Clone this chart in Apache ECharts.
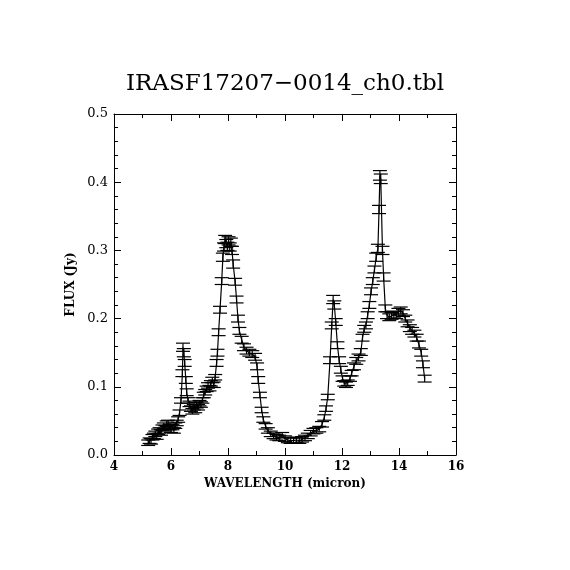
<!DOCTYPE html>
<html>
<head>
<meta charset="utf-8">
<script src="https://cdn.jsdelivr.net/npm/echarts@6/dist/echarts.min.js"></script>
<style>html,body{margin:0;padding:0;background:#fff;}#c{width:570px;height:570px;}</style>
</head>
<body>
<div id="c"></div>
<script>
const chartTitle = "IRASF17207\u22120014_ch0.tbl";
const xName = "WAVELENGTH (micron)";
const yName = "FLUX (Jy)";
const wavelength = [
  5.20,5.25,5.30,5.35,5.40,5.45,5.50,5.55,5.60,5.65,
  5.70,5.75,5.80,5.85,5.90,5.95,6.00,6.05,6.10,6.15,
  6.20,6.25,6.30,6.35,6.40,6.42,6.45,6.48,6.52,6.55,
  6.60,6.65,6.70,6.75,6.80,6.85,6.90,6.95,7.00,7.05,
  7.10,7.15,7.20,7.25,7.30,7.35,7.40,7.45,7.50,7.55,
  7.60,7.63,7.67,7.72,7.78,7.82,7.86,7.90,7.94,7.98,
  8.02,8.06,8.10,8.14,8.18,8.25,8.30,8.35,8.40,8.48,
  8.56,8.65,8.75,8.85,8.95,9.02,9.06,9.12,9.18,9.24,
  9.32,9.40,9.50,9.60,9.70,9.80,9.90,10.00,10.10,10.20,
  10.30,10.40,10.50,10.60,10.70,10.80,10.90,11.00,11.10,11.20,
  11.30,11.38,11.44,11.50,11.58,11.64,11.69,11.73,11.78,11.84,
  11.90,11.96,12.02,12.08,12.14,12.20,12.28,12.34,12.42,12.50,
  12.58,12.66,12.72,12.78,12.84,12.90,12.96,13.02,13.08,13.14,
  13.20,13.26,13.30,13.33,13.36,13.42,13.46,13.52,13.58,13.66,
  13.74,13.82,13.90,13.98,14.06,14.14,14.22,14.30,14.38,14.46,
  14.54,14.62,14.70,14.78,14.84,14.90
];
const flux = [
  0.018,0.021,0.020,0.026,0.028,0.031,0.027,0.034,0.036,0.033,
  0.040,0.043,0.039,0.046,0.047,0.041,0.037,0.041,0.036,0.043,
  0.047,0.052,0.062,0.080,0.120,0.158,0.150,0.135,0.110,0.092,
  0.080,0.075,0.068,0.064,0.070,0.066,0.073,0.070,0.076,0.074,
  0.080,0.088,0.092,0.097,0.102,0.098,0.105,0.110,0.103,0.114,
  0.135,0.150,0.180,0.213,0.255,0.290,0.305,0.316,0.310,0.306,
  0.314,0.305,0.312,0.300,0.280,0.254,0.228,0.200,0.182,0.169,
  0.158,0.153,0.150,0.148,0.144,0.130,0.110,0.088,0.066,0.052,
  0.042,0.036,0.031,0.028,0.026,0.025,0.029,0.024,0.022,0.021,
  0.021,0.022,0.021,0.023,0.025,0.028,0.032,0.035,0.036,0.038,
  0.045,0.055,0.068,0.085,0.139,0.190,0.228,0.220,0.195,0.161,
  0.139,0.125,0.112,0.105,0.103,0.106,0.112,0.120,0.130,0.138,
  0.143,0.151,0.172,0.185,0.190,0.205,0.220,0.240,0.255,0.272,
  0.290,0.303,0.360,0.410,0.405,0.300,0.261,0.215,0.205,0.202,
  0.204,0.206,0.205,0.210,0.212,0.208,0.200,0.193,0.186,0.182,
  0.178,0.172,0.162,0.150,0.133,0.112
];
const fluxErr = [
  0.004,0.004,0.004,0.004,0.004,0.004,0.004,0.004,0.004,0.004,
  0.004,0.004,0.004,0.004,0.004,0.004,0.004,0.004,0.004,0.004,
  0.004,0.004,0.004,0.004,0.005,0.006,0.006,0.005,0.005,0.005,
  0.004,0.004,0.004,0.004,0.004,0.004,0.004,0.004,0.004,0.004,
  0.004,0.004,0.004,0.004,0.004,0.004,0.004,0.004,0.004,0.004,
  0.005,0.005,0.005,0.005,0.005,0.006,0.006,0.006,0.006,0.006,
  0.006,0.006,0.006,0.006,0.006,0.005,0.005,0.005,0.005,0.005,
  0.005,0.005,0.005,0.005,0.005,0.005,0.005,0.004,0.004,0.004,
  0.004,0.004,0.004,0.004,0.004,0.004,0.004,0.004,0.004,0.004,
  0.004,0.004,0.004,0.004,0.004,0.004,0.004,0.004,0.004,0.004,
  0.004,0.004,0.004,0.004,0.005,0.005,0.006,0.006,0.005,0.005,
  0.005,0.005,0.004,0.004,0.004,0.004,0.004,0.004,0.005,0.005,
  0.005,0.005,0.005,0.005,0.005,0.005,0.005,0.005,0.005,0.005,
  0.006,0.006,0.006,0.007,0.007,0.006,0.006,0.005,0.005,0.005,
  0.005,0.005,0.005,0.005,0.005,0.005,0.005,0.005,0.005,0.005,
  0.005,0.005,0.005,0.005,0.005,0.005
];

const points = wavelength.map((w, i) => [w, flux[i]]);
const errData = wavelength.map((w, i) => [w, flux[i] - fluxErr[i], flux[i] + fluxErr[i]]);

const FONT = "DejaVu Serif";
const chart = echarts.init(document.getElementById('c'));
const axisCommon = {
  type: 'value',
  axisLine: { show: true, onZero: false, lineStyle: { color: '#000', width: 1 } },
  axisTick: { show: true, inside: true, length: 7, lineStyle: { color: '#000', width: 1 } },
  minorTick: { show: true, length: 4, lineStyle: { color: '#000', width: 1 } },
  splitLine: { show: false },
  minorSplitLine: { show: false }
};
chart.setOption({
  animation: false,
  backgroundColor: '#fff',
  title: {
    text: chartTitle, left: 'center', top: 68,
    textStyle: { fontFamily: FONT, fontSize: 23, fontWeight: 'normal', color: '#000' }
  },
  grid: { left: 114, top: 114, width: 342, height: 341 },
  xAxis: [
    Object.assign({}, axisCommon, {
      position: 'bottom', min: 4, max: 16, interval: 2,
      minorTick: Object.assign({}, axisCommon.minorTick, { splitNumber: 2 }),
      name: xName, nameLocation: 'middle', nameGap: 23,
      nameTextStyle: { fontFamily: FONT, fontSize: 12, fontWeight: 'bold', color: '#000' },
      axisLabel: { margin: 6, fontFamily: FONT, fontSize: 12, fontWeight: 'bold', color: '#000' }
    }),
    Object.assign({}, axisCommon, {
      position: 'top', min: 4, max: 16, interval: 2,
      minorTick: Object.assign({}, axisCommon.minorTick, { splitNumber: 2 }),
      axisLabel: { show: false }
    })
  ],
  yAxis: [
    Object.assign({}, axisCommon, {
      position: 'left', min: 0, max: 0.5, interval: 0.1,
      minorTick: Object.assign({}, axisCommon.minorTick, { splitNumber: 5 }),
      name: yName, nameLocation: 'middle', nameGap: 37,
      nameTextStyle: { fontFamily: FONT, fontSize: 12, fontWeight: 'bold', color: '#000' },
      axisLabel: { margin: 6, fontFamily: FONT, fontSize: 13, fontWeight: 'normal', color: '#000',
        formatter: v => v.toFixed(1) }
    }),
    Object.assign({}, axisCommon, {
      position: 'right', min: 0, max: 0.5, interval: 0.1,
      minorTick: Object.assign({}, axisCommon.minorTick, { splitNumber: 5 }),
      axisLabel: { show: false }
    })
  ],
  series: [
    {
      type: 'line', data: points, xAxisIndex: 0, yAxisIndex: 0,
      showSymbol: false, symbol: 'none',
      lineStyle: { color: '#000', width: 1.2 }
    },
    {
      type: 'custom', data: errData, xAxisIndex: 0, yAxisIndex: 0,
      renderItem: function (params, api) {
        const x = api.value(0);
        const lo = api.coord([x, api.value(1)]);
        const hi = api.coord([x, api.value(2)]);
        const hw = 7;
        const st = { stroke: '#000', lineWidth: 1.2 };
        return {
          type: 'group',
          children: [
            { type: 'line', shape: { x1: lo[0], y1: lo[1], x2: hi[0], y2: hi[1] }, style: st },
            { type: 'line', shape: { x1: lo[0] - hw, y1: lo[1], x2: lo[0] + hw, y2: lo[1] }, style: st },
            { type: 'line', shape: { x1: hi[0] - hw, y1: hi[1], x2: hi[0] + hw, y2: hi[1] }, style: st }
          ]
        };
      }
    }
  ]
});
</script>
</body>
</html>
